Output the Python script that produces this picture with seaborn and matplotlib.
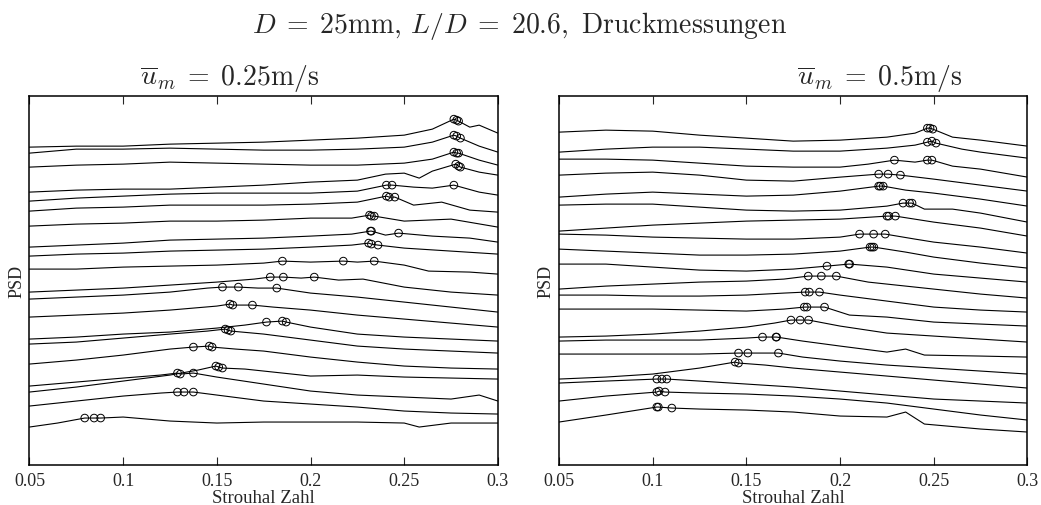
import matplotlib
matplotlib.use("Agg")
import matplotlib.pyplot as plt
import seaborn as sns
import pandas as pd

# ---------------- data ----------------
# Stacked (offset) spectra. Each curve: (Strouhal number, offset depth below top of the stack)
BASE = 466   # depth of the PSD zero line (offset values are converted with PSD = BASE - depth)
PSD_TOP = 369

left_curves = [
    [(0.05,148),(0.075,147),(0.1,147),(0.125,145),(0.15,144),(0.175,143),(0.2,141),(0.225,139),(0.25,136),(0.265,130),(0.285,128),(0.29,126),(0.3,134)],
    [(0.05,154),(0.075,150),(0.1,150),(0.125,149),(0.15,150),(0.175,151),(0.2,151),(0.225,150),(0.25,148),(0.265,143),(0.29,147),(0.3,153)],
    [(0.05,168),(0.075,166),(0.1,165),(0.125,163),(0.15,164),(0.175,165),(0.2,166),(0.225,166),(0.25,164),(0.265,160),(0.29,161),(0.3,166)],
    [(0.05,193),(0.075,191),(0.1,190),(0.125,190),(0.15,188),(0.175,186),(0.2,183),(0.225,181),(0.24,175),(0.25,174),(0.258,179),(0.265,172),(0.29,173),(0.3,176)],
    [(0.05,202),(0.075,199),(0.1,197),(0.125,195),(0.15,194),(0.175,194),(0.2,194),(0.225,192),(0.255,188),(0.265,189),(0.29,193),(0.3,196)],
    [(0.05,212),(0.075,209),(0.1,208),(0.125,206),(0.15,206),(0.175,206),(0.2,205),(0.225,203),(0.255,206),(0.27,203),(0.285,211),(0.3,213)],
    [(0.05,227),(0.075,225),(0.1,224),(0.125,222),(0.15,222),(0.175,221),(0.2,219),(0.222,219),(0.25,222),(0.275,220),(0.3,228)],
    [(0.05,248),(0.075,246),(0.1,244),(0.125,241),(0.15,240),(0.175,239),(0.2,237),(0.222,235),(0.24,236),(0.265,237),(0.285,239),(0.3,243)],
    [(0.05,257),(0.075,255),(0.1,254),(0.125,252),(0.15,251),(0.175,250),(0.2,248),(0.222,246),(0.25,249),(0.275,252),(0.3,255)],
    [(0.05,270),(0.075,270),(0.1,268),(0.125,267),(0.15,266),(0.175,264),(0.2,263),(0.225,263),(0.25,266),(0.263,272),(0.285,273),(0.3,275)],
    [(0.05,293),(0.075,291),(0.1,289),(0.125,286),(0.15,283),(0.17,280),(0.195,279),(0.215,281),(0.228,280),(0.25,288),(0.275,293),(0.3,296)],
    [(0.05,300),(0.075,298),(0.1,296),(0.125,293),(0.145,289),(0.172,289),(0.2,294),(0.225,298),(0.25,303),(0.275,308),(0.3,313)],
    [(0.05,318),(0.075,316),(0.1,314),(0.125,311),(0.15,307),(0.18,308),(0.2,311),(0.225,316),(0.25,320),(0.275,324),(0.3,328)],
    [(0.05,340),(0.075,338),(0.1,335),(0.125,333),(0.15,329),(0.165,326),(0.2,328),(0.225,335),(0.25,338),(0.275,340),(0.3,342)],
    [(0.05,345),(0.075,343),(0.1,339),(0.125,335),(0.145,332),(0.175,335),(0.2,341),(0.225,347),(0.25,350),(0.275,352),(0.3,354)],
    [(0.05,365),(0.075,361),(0.1,356),(0.125,350),(0.16,350),(0.175,352),(0.2,358),(0.225,363),(0.25,367),(0.275,369),(0.3,370)],
    [(0.05,393),(0.075,388),(0.1,382),(0.125,376),(0.14,371),(0.165,370),(0.2,377),(0.225,376),(0.25,378),(0.275,379),(0.3,380)],
    [(0.05,387),(0.075,383),(0.1,379),(0.12,376),(0.15,378),(0.175,385),(0.2,392),(0.225,396),(0.25,398),(0.275,400),(0.29,396),(0.3,402)],
    [(0.05,407),(0.075,402),(0.1,397),(0.12,394),(0.15,396),(0.175,402),(0.2,405),(0.225,408),(0.25,412),(0.275,414),(0.3,415)],
    [(0.05,428),(0.065,424),(0.1,418),(0.125,422),(0.15,424),(0.175,423),(0.2,423),(0.225,423),(0.25,424),(0.258,428),(0.275,424),(0.3,424)],
]
left_peaks = [
    [(0.2765,120),(0.278,121),(0.279,122)],
    [(0.2765,136),(0.278,137),(0.28,139)],
    [(0.2765,153),(0.278,154),(0.279,154)],
    [(0.2775,165),(0.279,167),(0.28,168)],
    [(0.2405,186),(0.2435,186),(0.2765,186)],
    [(0.2405,197),(0.242,198),(0.245,198)],
    [(0.2315,216),(0.2325,217),(0.234,217)],
    [(0.232,232),(0.2325,232),(0.247,234)],
    [(0.231,244),(0.2325,245),(0.236,246)],
    [(0.185,262),(0.2175,262),(0.234,262)],
    [(0.1785,278),(0.1855,278),(0.202,278)],
    [(0.153,288),(0.1615,288),(0.182,289)],
    [(0.157,305),(0.1585,306),(0.169,306)],
    [(0.1765,323),(0.185,322),(0.187,323)],
    [(0.1545,330),(0.156,331),(0.1575,332)],
    [(0.1375,348),(0.146,347),(0.1475,348)],
    [(0.1495,367),(0.151,368),(0.153,369)],
    [(0.129,374),(0.1305,375),(0.1375,374)],
    [(0.129,393),(0.1325,393),(0.1375,393)],
    [(0.0795,419),(0.0845,419),(0.088,419)],
]

right_curves = [
    [(0.05,133),(0.075,131),(0.1,132),(0.125,136),(0.15,139),(0.175,142),(0.2,141),(0.225,138),(0.24,134),(0.26,138),(0.275,141),(0.3,147)],
    [(0.05,153),(0.075,150),(0.1,148),(0.125,148),(0.15,150),(0.175,152),(0.2,152),(0.225,149),(0.24,146),(0.265,150),(0.275,153),(0.3,159)],
    [(0.05,160),(0.075,160),(0.1,161),(0.125,164),(0.15,167),(0.175,168),(0.2,168),(0.215,165),(0.24,163),(0.26,167),(0.275,170),(0.3,178)],
    [(0.05,176),(0.075,174),(0.1,173),(0.125,176),(0.15,181),(0.175,182),(0.2,178),(0.25,180),(0.275,186),(0.3,192)],
    [(0.05,198),(0.075,195),(0.1,193),(0.125,195),(0.15,197),(0.175,196),(0.2,192),(0.235,191),(0.25,194),(0.275,200),(0.3,207)],
    [(0.05,206),(0.075,205),(0.1,205),(0.125,208),(0.15,211),(0.175,212),(0.2,211),(0.225,207),(0.245,210),(0.26,210),(0.275,214),(0.3,223)],
    [(0.05,232),(0.075,229),(0.1,226),(0.125,224),(0.15,222),(0.175,221),(0.2,220),(0.25,223),(0.275,229),(0.3,237)],
    [(0.05,235),(0.075,236),(0.1,238),(0.125,239),(0.15,240),(0.175,240),(0.2,238),(0.24,240),(0.25,243),(0.275,248),(0.3,254)],
    [(0.05,250),(0.075,252),(0.1,254),(0.125,256),(0.15,256),(0.175,255),(0.2,252),(0.235,253),(0.25,258),(0.275,264),(0.3,269)],
    [(0.05,265),(0.075,265),(0.1,268),(0.125,271),(0.15,272),(0.175,270),(0.225,268),(0.25,275),(0.275,279),(0.3,283)],
    [(0.05,290),(0.075,287),(0.1,285),(0.125,283),(0.15,282),(0.17,280),(0.215,283),(0.25,290),(0.275,295),(0.3,299)],
    [(0.05,296),(0.075,296),(0.1,297),(0.125,297),(0.15,296),(0.17,294),(0.2,296),(0.225,302),(0.25,308),(0.275,311),(0.3,313)],
    [(0.05,310),(0.075,310),(0.1,310),(0.125,311),(0.15,312),(0.17,310),(0.205,316),(0.225,318),(0.25,323),(0.275,325),(0.3,327)],
    [(0.05,338),(0.075,337),(0.1,335),(0.125,332),(0.15,328),(0.165,324),(0.2,327),(0.225,334),(0.25,337),(0.275,340),(0.3,343)],
    [(0.05,342),(0.075,341),(0.1,341),(0.125,341),(0.15,339),(0.18,342),(0.2,347),(0.225,353),(0.235,350),(0.245,356),(0.275,357),(0.3,358)],
    [(0.05,355),(0.075,355),(0.1,355),(0.125,355),(0.18,358),(0.2,362),(0.225,366),(0.25,369),(0.275,372),(0.3,375)],
    [(0.05,380),(0.075,378),(0.1,375),(0.125,369),(0.16,366),(0.175,369),(0.2,373),(0.225,377),(0.25,381),(0.275,385),(0.3,389)],
    [(0.05,384),(0.075,382),(0.125,382),(0.15,385),(0.175,388),(0.2,392),(0.225,396),(0.25,400),(0.275,402),(0.3,404)],
    [(0.05,402),(0.075,397),(0.125,394),(0.15,395),(0.175,397),(0.2,400),(0.225,404),(0.25,410),(0.275,416),(0.3,421)],
    [(0.05,423),(0.075,416),(0.125,410),(0.15,411),(0.175,413),(0.2,417),(0.225,418),(0.235,413),(0.245,425),(0.275,430),(0.3,433)],
]
right_peaks = [
    [(0.2466,129),(0.248,129),(0.2495,130)],
    [(0.2466,143),(0.249,142),(0.2512,144)],
    [(0.229,161),(0.2466,161),(0.249,161)],
    [(0.2206,175),(0.2256,175),(0.2322,176)],
    [(0.2206,187),(0.2215,187),(0.223,187)],
    [(0.2336,204),(0.2371,204),(0.2384,204)],
    [(0.225,217),(0.226,217),(0.2295,217)],
    [(0.2104,235),(0.2179,235),(0.2241,235)],
    [(0.216,248),(0.217,248),(0.218,248)],
    [(0.193,267),(0.2046,265),(0.2051,265)],
    [(0.183,277),(0.19,277),(0.198,277)],
    [(0.1814,293),(0.1836,293),(0.189,293)],
    [(0.1809,308),(0.1823,308),(0.1917,308)],
    [(0.1738,321),(0.1787,321),(0.1832,321)],
    [(0.1586,338),(0.1658,338),(0.1661,338)],
    [(0.1458,354),(0.1508,354),(0.1671,354)],
    [(0.144,363),(0.1458,364)],
    [(0.1022,380),(0.1049,380),(0.1075,380)],
    [(0.1022,393),(0.1034,392),(0.1066,393)],
    [(0.1022,408),(0.103,408),(0.1102,409)],
]

xticks = [0.05, 0.1, 0.15, 0.2, 0.25, 0.3]
xticklabels = ["0.05", "0.1", "0.15", "0.2", "0.25", "0.3"]
suptitle = r"$D\;=\;25\mathrm{mm},\, L/D\;=\;20.6,\ \mathrm{Druckmessungen}$"
panel_titles = [r"$\overline{u}_m\;=\;0.25\mathrm{m/s}$", r"$\overline{u}_m\;=\;0.5\mathrm{m/s}$"]
xlabel = "Strouhal Zahl"
ylabel = "PSD"

# ---------------- plotting ----------------
sns.set_style("white")
plt.rcParams["font.family"] = ["Liberation Serif", "DejaVu Serif"]
plt.rcParams["mathtext.fontset"] = "cm"


def frames(curves, peaks):
    rows, mrows = [], []
    for i, (c, p) in enumerate(zip(curves, peaks)):
        pts = sorted(c + p)
        for x, d in pts:
            rows.append({"curve": i, "St": x, "PSD": BASE - d})
        for x, d in p:
            mrows.append({"curve": i, "St": x, "PSD": BASE - d})
    return pd.DataFrame(rows), pd.DataFrame(mrows)


fig = plt.figure(figsize=(10.41, 5.06), dpi=100)
axes = [fig.add_axes([0.0283, 0.079, 0.450, 0.729]),
        fig.add_axes([0.537, 0.079, 0.450, 0.729])]

for ax, curves, peaks in zip(axes, [left_curves, right_curves], [left_peaks, right_peaks]):
    df, dm = frames(curves, peaks)
    sns.lineplot(data=df, x="St", y="PSD", units="curve", estimator=None, sort=True,
                 color="black", linewidth=0.8, ax=ax)
    sns.scatterplot(data=dm, x="St", y="PSD", marker="o", s=30, facecolors="none",
                    edgecolor="black", linewidth=0.7, ax=ax, zorder=3)
    ax.set_xlim(0.05, 0.3)
    ax.set_ylim(0, PSD_TOP)
    ax.set_xticks(xticks)
    ax.set_xticklabels(xticklabels, fontsize=13)
    ax.set_yticks([])
    ax.tick_params(axis="x", direction="in", top=True, bottom=True, length=6, width=0.8, pad=5)
    ax.set_xlabel(xlabel, fontsize=13.5, labelpad=0)
    ax.set_ylabel(ylabel, fontsize=13, labelpad=3)
    for s in ax.spines.values():
        s.set_linewidth(1.1)
        s.set_color("black")

fig.text(0.4995, 1 - 33 / 506, suptitle, ha="center", va="baseline", fontsize=20)
fig.text(0.221, 1 - 85 / 506, panel_titles[0], ha="center", va="baseline", fontsize=20)
fig.text(0.845, 1 - 85 / 506, panel_titles[1], ha="center", va="baseline", fontsize=20)

fig.savefig("out.png", dpi=100)
